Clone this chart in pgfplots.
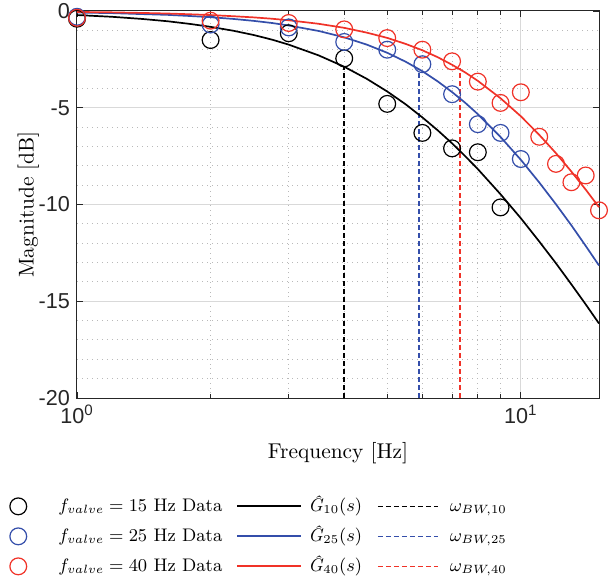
\documentclass[border=0pt]{standalone}
\usepackage{fontspec}
\setsansfont{Liberation Sans}
\usepackage{pgfplots}
\pgfplotsset{compat=1.18}
\definecolor{mblue}{RGB}{52,78,170}
\definecolor{mred}{RGB}{240,50,40}
\definecolor{axgray}{RGB}{38,38,38}

% measured points (frequency in Hz, magnitude in dB)
\pgfplotstableread{
f    m
1   -0.40
2   -1.50
3   -1.15
4   -2.45
5   -4.80
6   -6.30
7   -7.10
8   -7.30
9  -10.15
}\dataA
\pgfplotstableread{
f    m
1   -0.30
2   -0.70
3   -0.85
4   -1.60
5   -2.00
6   -2.75
7   -4.30
8   -5.85
9   -6.30
10  -7.65
}\dataB
\pgfplotstableread{
f    m
1   -0.35
2   -0.50
3   -0.62
4   -0.95
5   -1.40
6   -2.00
7   -2.60
8   -3.65
9   -4.75
10  -4.20
11  -6.50
12  -7.90
13  -8.85
14  -8.50
15  -10.30
}\dataC
% fitted models
\pgfplotstableread{
f     a       b       c
1    -0.21   -0.08   -0.05
1.2  -0.30   -0.11   -0.07
1.4  -0.41   -0.16   -0.10
1.6  -0.53   -0.20   -0.13
1.8  -0.67   -0.26   -0.17
2    -0.82   -0.32   -0.21
2.25 -1.02   -0.41   -0.27
2.5  -1.24   -0.51   -0.33
2.75 -1.48   -0.62   -0.40
3    -1.74   -0.75   -0.48
3.5  -2.29   -1.03   -0.66
4    -2.88   -1.36   -0.87
4.5  -3.51   -1.74   -1.12
5    -4.16   -2.16   -1.39
5.5  -4.82   -2.62   -1.70
6    -5.50   -3.11   -2.03
6.5  -6.17   -3.64   -2.39
7    -6.84   -4.19   -2.78
7.5  -7.51   -4.75   -3.18
8    -8.17   -5.33   -3.61
9    -9.47   -6.51   -4.51
10  -10.71   -7.69   -5.44
11  -11.91   -8.86   -6.40
12  -13.04   -9.99   -7.35
13  -14.13  -11.08   -8.30
14  -15.16  -12.14   -9.23
15  -16.15  -13.15  -10.14
}\fits

\begin{document}
\begin{tikzpicture}
\begin{semilogxaxis}[
  scale only axis, width=261pt, height=193.5pt,
  xmin=1, xmax=15, ymin=-20, ymax=0,
  clip=false,
  axis line style={axgray, line width=0.5pt},
  tick style={axgray, line width=0.4pt},
  major tick length=3pt, minor tick length=2pt,
  xtick={1,10}, xticklabels={10\textsuperscript{0},10\textsuperscript{1}},
  ytick={-20,-15,-10,-5,0}, yticklabels={-20,-15,-10,-5,0},
  ticklabel style={font=\sffamily\fontsize{10.8}{12}\selectfont, text=axgray},
  grid=both,
  major grid style={gray!30, line width=0.5pt},
  minor grid style={gray!55, dotted, line width=0.5pt},
  extra y ticks={-19,-18,-17,-16,-14,-13,-12,-11,-9,-8,-7,-6,-4,-3,-2,-1},
  extra y tick labels={},
  extra y tick style={grid=major, major grid style={gray!55, dotted, line width=0.5pt}, major tick length=0pt},
  label style={font=\fontsize{10.7}{13}\selectfont},
  xlabel={Frequency [Hz]},
  ylabel={Magnitude [dB]},
  xlabel style={yshift=-2.5pt},
  ylabel style={yshift=-7pt},
  legend columns=3,
  legend style={draw=none, fill=none, font=\fontsize{9.1}{11}\selectfont,
    at={(axis description cs:-0.142,-0.235)}, anchor=north west,
    row sep=2pt,
    nodes={inner sep=1pt, text height=8pt, text depth=3pt},
    /tikz/every odd column/.append style={column sep=1pt},
    /tikz/every even column/.append style={column sep=6.5pt}},
  legend cell align=left,
]
% bandwidth markers
\addplot[black, line width=0.75pt, dash pattern=on 2.5pt off 1.5pt, forget plot] coordinates {(4,-20) (4,-2.9)};
\addplot[mblue, line width=0.75pt, dash pattern=on 2.5pt off 1.5pt, forget plot] coordinates {(5.9,-20) (5.9,-3.0)};
\addplot[mred, line width=0.75pt, dash pattern=on 2.5pt off 1.5pt, forget plot] coordinates {(7.3,-20) (7.3,-2.95)};
% model curves
\addplot[black, line width=0.85pt, forget plot] table[x=f, y=a] {\fits};
\addplot[mblue, line width=0.85pt, forget plot] table[x=f, y=b] {\fits};
\addplot[mred, line width=0.85pt, forget plot] table[x=f, y=c] {\fits};
% data
\addplot[only marks, mark=o, mark size=4.2pt, black, line width=0.6pt, forget plot] table[x=f, y=m] {\dataA};
\addplot[only marks, mark=o, mark size=4.2pt, mblue, line width=0.6pt, forget plot] table[x=f, y=m] {\dataB};
\addplot[only marks, mark=o, mark size=4.2pt, mred, line width=0.6pt, forget plot] table[x=f, y=m] {\dataC};

% legend
\addlegendimage{legend image code/.code={\draw[black, line width=0.6pt] (0,0) circle (4.2pt); \path[draw=none] (0,0) -- (18pt,0);}}
\addlegendentry{$f_{valve} = 15$ Hz Data}
\addlegendimage{legend image code/.code={\draw[black, line width=0.85pt, overlay] (0,0) -- (32pt,0); \path[draw=none] (0,0) -- (33.5pt,0);}}
\addlegendentry{\textit{Ĝ}$_{10}(s)$}
\addlegendimage{legend image code/.code={\draw[black, line width=0.75pt, dash pattern=on 2.5pt off 1.5pt] (0,0) -- (30pt,0); \path[draw=none] (0,0) -- (34pt,0);}}
\addlegendentry{$\omega_{BW,10}$}
\addlegendimage{legend image code/.code={\draw[mblue, line width=0.6pt] (0,0) circle (4.2pt); \path[draw=none] (0,0) -- (18pt,0);}}
\addlegendentry{$f_{valve} = 25$ Hz Data}
\addlegendimage{legend image code/.code={\draw[mblue, line width=0.85pt, overlay] (0,0) -- (32pt,0); \path[draw=none] (0,0) -- (33.5pt,0);}}
\addlegendentry{\textit{Ĝ}$_{25}(s)$}
\addlegendimage{legend image code/.code={\draw[mblue, line width=0.75pt, dash pattern=on 2.5pt off 1.5pt] (0,0) -- (30pt,0); \path[draw=none] (0,0) -- (34pt,0);}}
\addlegendentry{$\omega_{BW,25}$}
\addlegendimage{legend image code/.code={\draw[mred, line width=0.6pt] (0,0) circle (4.2pt); \path[draw=none] (0,0) -- (18pt,0);}}
\addlegendentry{$f_{valve} = 40$ Hz Data}
\addlegendimage{legend image code/.code={\draw[mred, line width=0.85pt, overlay] (0,0) -- (32pt,0); \path[draw=none] (0,0) -- (33.5pt,0);}}
\addlegendentry{\textit{Ĝ}$_{40}(s)$}
\addlegendimage{legend image code/.code={\draw[mred, line width=0.75pt, dash pattern=on 2.5pt off 1.5pt] (0,0) -- (30pt,0); \path[draw=none] (0,0) -- (34pt,0);}}
\addlegendentry{$\omega_{BW,40}$}
\end{semilogxaxis}
% page margins as in the reference
\path (current axis.south west) ++(-38.5pt,-92.5pt) coordinate (bbA);
\path (current axis.north east) ++(8.5pt,5.5pt) coordinate (bbB);
\pgfresetboundingbox
\path (bbA) rectangle (bbB);
\end{tikzpicture}
\end{document}
